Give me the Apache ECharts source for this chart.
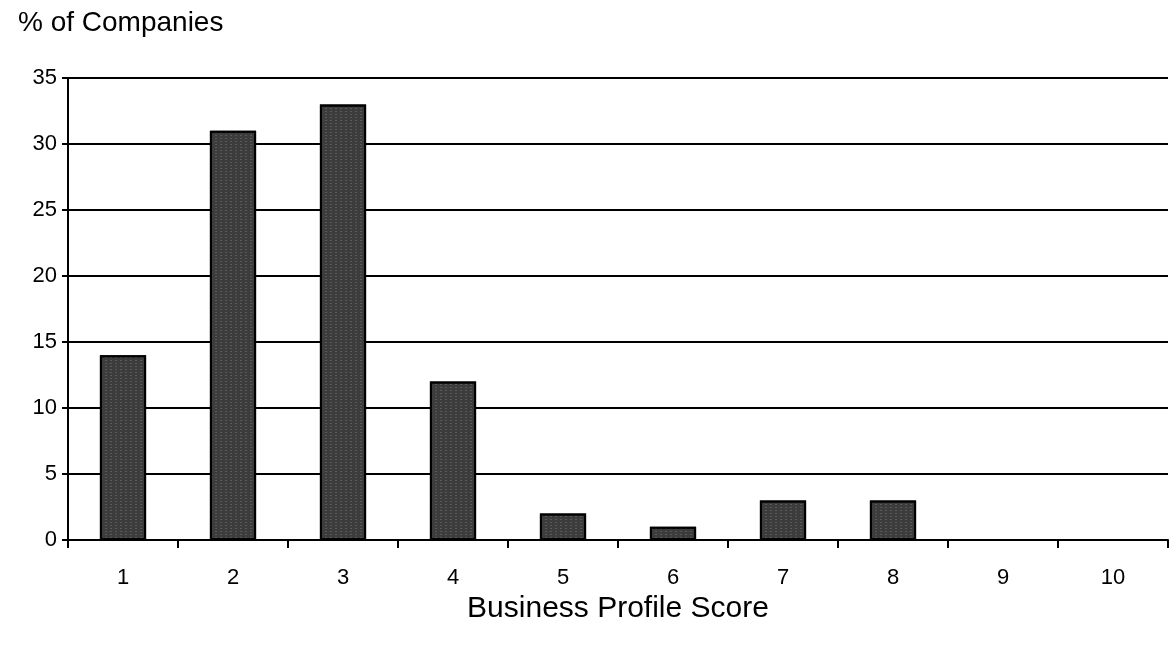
<!DOCTYPE html>
<html><head><meta charset="utf-8">
<script src="https://cdn.jsdelivr.net/npm/echarts@6/dist/echarts.min.js"></script>
<style>html,body{margin:0;padding:0;background:#fff}#c{width:1174px;height:649px}</style>
</head><body><div id="c"></div>
<script>
const categories = ['1','2','3','4','5','6','7','8','9','10'];
const values = [14, 31, 33, 12, 2, 1, 3, 3, 0, 0];
const yTicks = [0, 5, 10, 15, 20, 25, 30, 35];
const yTitle = '% of Companies';
const xTitle = 'Business Profile Score';

const chart = echarts.init(document.getElementById('c'), null, {renderer:'canvas'});
const font = 'Liberation Sans, Arial, sans-serif';
chart.setOption({
  animation:false,
  backgroundColor:'#fff',
  grid:{left:68, right:6, top:78, bottom:109},
  title:{text:yTitle, left:13, top:4, textStyle:{fontFamily:font, fontSize:28, fontWeight:'normal', color:'#000'}},
  xAxis:{type:'category', data:categories, name:xTitle, nameLocation:'middle', nameGap:65,
    nameTextStyle:{fontFamily:font, fontSize:30, color:'#000', verticalAlign:'bottom', lineHeight:30},
    axisLine:{lineStyle:{color:'#000', width:2}},
    axisTick:{show:true, alignWithLabel:false, length:8, lineStyle:{color:'#000', width:2}},
    axisLabel:{fontFamily:font, fontSize:22, color:'#000', margin:27}},
  yAxis:{type:'value', min:yTicks[0], max:yTicks[yTicks.length-1], interval:5,
    axisLine:{show:true, lineStyle:{color:'#000', width:2}},
    axisTick:{show:true, length:6, lineStyle:{color:'#000', width:2}},
    axisLabel:{fontFamily:font, fontSize:22, color:'#000', margin:11},
    splitLine:{lineStyle:{color:'#000', width:2}}},
  series:[{type:'bar', data:values, barWidth:'42%',
    itemStyle:{color:'#3c3c3c', borderColor:'#000', borderWidth:2,
      decal:{symbol:'rect', symbolSize:0.5, dashArrayX:[2,3], dashArrayY:[1,2], color:'rgba(255,255,255,0.6)', rotation:0}}}],
  aria:{enabled:false}
});
</script></body></html>
